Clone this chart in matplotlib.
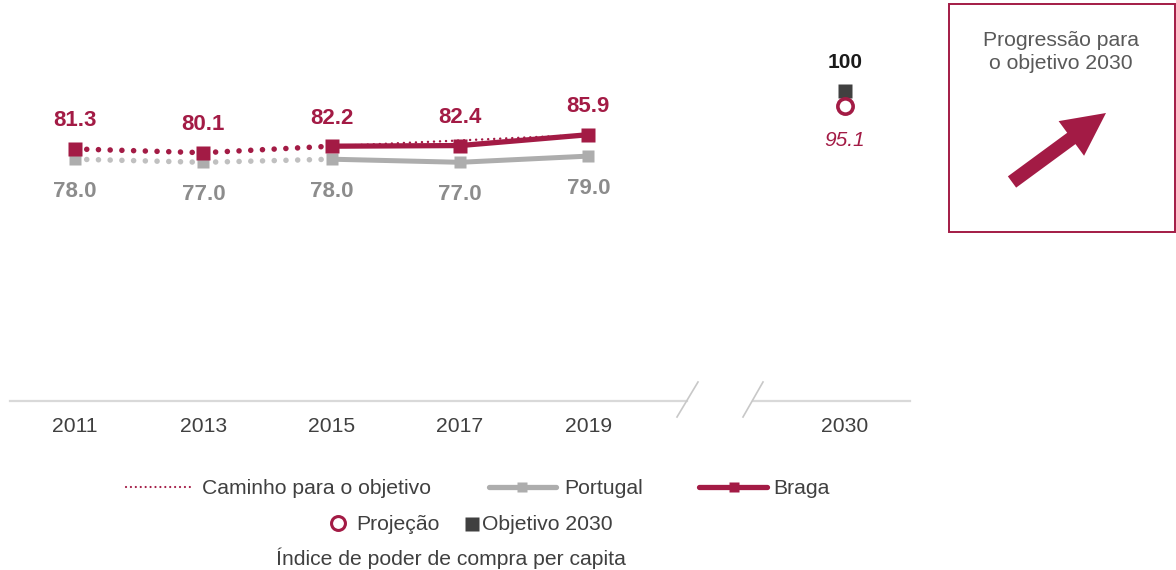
import matplotlib
matplotlib.use("Agg")
import matplotlib.pyplot as plt
from matplotlib.lines import Line2D
from matplotlib.patches import Rectangle, FancyArrow

plt.rcParams['font.family'] = ['Liberation Sans', 'DejaVu Sans']

# ---------------- data ----------------
years = ["2011", "2013", "2015", "2017", "2019"]
braga = [81.3, 80.1, 82.2, 82.4, 85.9]
portugal = [78.0, 77.0, 78.0, 77.0, 79.0]
target_year = "2030"
target_value = 100
projection_value = 95.1
tick_labels = years + [target_year]

# ---------------- style ----------------
RED = "#A31B45"
GREY = "#ADADAD"
GREY_TXT = "#8C8C8C"
DARK = "#404040"
TXT = "#404040"
AXIS = "#D9D9D9"
FS = 15.2

W, H, DPI = 1176, 570, 100
fig = plt.figure(figsize=(W / DPI, H / DPI), dpi=DPI)

# main axes: pixel span x 10..910, y(0)=401px from top, 3.1 px per unit
px_per_idx = 128.33
x0_px = 75
left_px, right_px = 10, 910
xmin = (left_px - x0_px) / px_per_idx
xmax = (right_px - x0_px) / px_per_idx
ppu = 3.1
bottom_px = H - 401
top_val = 120
ax = fig.add_axes([left_px / W, bottom_px / H, (right_px - left_px) / W, top_val * ppu / H])
ax.set_xlim(xmin, xmax)
ax.set_ylim(0, top_val)
ax.axis("off")

xs = list(range(len(years)))
x_target = len(years) + 1  # gap for the break

# axis line with break
brk_l = (687 - x0_px) / px_per_idx
brk_r = (753 - x0_px) / px_per_idx
ax.plot([xmin, brk_l], [0, 0], color=AXIS, lw=1.6, clip_on=False, zorder=1)
ax.plot([brk_r, xmax], [0, 0], color=AXIS, lw=1.6, clip_on=False, zorder=1)
for xa, xb in [((677 - x0_px) / px_per_idx, (698 - x0_px) / px_per_idx),
               ((743 - x0_px) / px_per_idx, (763 - x0_px) / px_per_idx)]:
    ax.plot([xa, xb], [-16 / ppu, 19 / ppu], color="#C8C8C8", lw=1.2,
            clip_on=False, zorder=1)

# tick labels
for i, lab in zip(xs + [x_target], tick_labels):
    ax.text(i, -26 / ppu, lab, ha="center", va="center", fontsize=FS, color=TXT)

# dotted historic segments (2011-2015)
dots = (0, (0.01, 2.1))
ax.plot(xs[:3], portugal[:3], color="#C0C0C0", lw=4.0, linestyle=dots,
        dash_capstyle="round", zorder=2)
ax.plot(xs[:3], braga[:3], color=RED, lw=4.0, linestyle=dots,
        dash_capstyle="round", zorder=3)
# solid segments (2015-2019)
ax.plot(xs[2:], portugal[2:], color=GREY, lw=3.6, solid_capstyle="butt", zorder=2)
# path to objective (thin dotted)
ax.plot([xs[2], xs[-1]], [braga[2], braga[-1]], color=RED, lw=1.8,
        linestyle=(0, (0.01, 2.4)), dash_capstyle="round", zorder=3)
ax.plot(xs[2:], braga[2:], color=RED, lw=3.8, solid_capstyle="butt", zorder=4)

# markers
ax.plot(xs, portugal, linestyle="none", marker="s", ms=9.2, color=GREY,
        mec="none", zorder=5)
ax.plot(xs, braga, linestyle="none", marker="s", ms=10.4, color=RED,
        mec="none", zorder=6)

# value labels
for x, v in zip(xs, braga):
    ax.text(x, v + 28 / ppu, f"{v:.1f}", ha="center", va="center",
            fontsize=16, fontweight="bold", color=RED)
for x, v in zip(xs, portugal):
    ax.text(x, v - 32 / ppu, f"{v:.1f}", ha="center", va="center",
            fontsize=16, fontweight="bold", color=GREY_TXT)

# 2030 target and projection
ax.plot([x_target], [target_value], linestyle="none", marker="s", ms=9.5,
        color=DARK, mec="none", zorder=6)
ax.plot([x_target], [projection_value], linestyle="none", marker="o", ms=11,
        mfc="white", mec=RED, mew=2.6, zorder=7)
ax.text(x_target, target_value + 29 / ppu, f"{target_value}", ha="center",
        va="center", fontsize=15, fontweight="bold", color="#1A1A1A")
ax.text(x_target, projection_value - 34 / ppu, f"{projection_value}", ha="center",
        va="center", fontsize=15, fontstyle="italic", color=RED)

# ---------------- overlay in pixel coordinates ----------------
ov = fig.add_axes([0, 0, 1, 1], facecolor="none")
ov.set_xlim(0, W)
ov.set_ylim(H, 0)
ov.axis("off")

# legend row 1
y1 = 488
ov.add_line(Line2D([126, 190], [y1 - 1, y1 - 1], color=RED, lw=1.6,
                   linestyle=(0, (0.01, 2.2)), dash_capstyle="round"))
ov.text(202, y1, "Caminho para o objetivo", va="center", ha="left",
        fontsize=FS, color=TXT)
ov.add_line(Line2D([489, 556], [y1 - 1, y1 - 1], color=GREY, lw=3.8,
                   solid_capstyle="round"))
ov.add_line(Line2D([522], [y1 - 1], marker="s", ms=7, color=GREY, mec="none"))
ov.text(564, y1, "Portugal", va="center", ha="left", fontsize=FS, color=TXT)
ov.add_line(Line2D([699, 767], [y1 - 1, y1 - 1], color=RED, lw=3.8,
                   solid_capstyle="round"))
ov.add_line(Line2D([734], [y1 - 1], marker="s", ms=7, color=RED, mec="none"))
ov.text(773, y1, "Braga", va="center", ha="left", fontsize=FS, color=TXT)

# legend row 2
y2 = 524
ov.add_line(Line2D([338], [y2 - 1], marker="o", ms=10, mfc="white", mec=RED, mew=2.2))
ov.text(356, y2, "Projeção", va="center", ha="left", fontsize=FS, color=TXT)
ov.add_line(Line2D([472], [y2], marker="s", ms=9.5, color=DARK, mec="none"))
ov.text(482, y2, "Objetivo 2030", va="center", ha="left", fontsize=FS, color=TXT)

# caption
ov.text(451, 558, "Índice de poder de compra per capita", va="center",
        ha="center", fontsize=FS, color=TXT)

# right box
ov.add_patch(Rectangle((948.5, 3.5), 226, 228, fill=False, edgecolor=RED, lw=1.4))
ov.text(1061, 52, "Progressão para\no objetivo 2030", ha="center", va="center",
        fontsize=FS, color="#595959", linespacing=1.3)
ov.add_patch(FancyArrow(1012, 182, 94, -69, width=14, head_width=43,
                        head_length=43, length_includes_head=True,
                        color=RED, lw=0))

fig.savefig("out.png", dpi=DPI)
